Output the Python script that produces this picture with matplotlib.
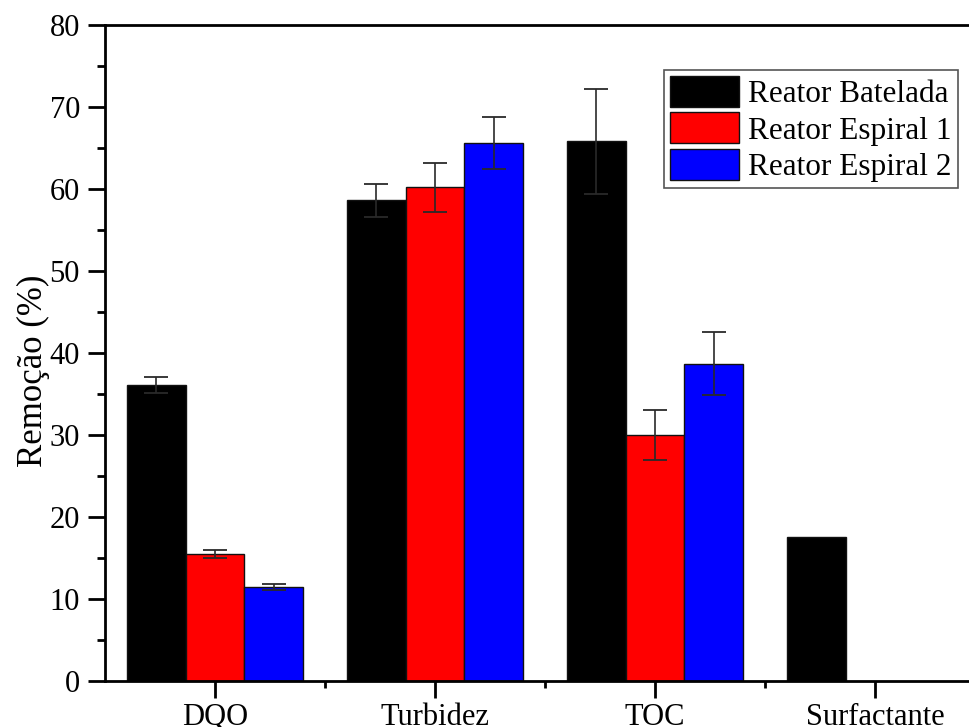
import numpy as np
import matplotlib
matplotlib.use("Agg")
import matplotlib.pyplot as plt
from matplotlib.ticker import MultipleLocator

plt.rcParams['font.family'] = ['Liberation Serif', 'DejaVu Serif']

categories = ["DQO", "Turbidez", "TOC", "Surfactante"]
series_names = ["Reator Batelada", "Reator Espiral 1", "Reator Espiral 2"]
batelada = [36.1, 58.6, 65.8, 17.6]
espiral1 = [15.5, 60.2, 30.0, np.nan]
espiral2 = [11.5, 65.6, 38.7, np.nan]
batelada_err = [1.0, 2.0, 6.4, np.nan]
espiral1_err = [0.5, 3.0, 3.0, np.nan]
espiral2_err = [0.35, 3.2, 3.85, np.nan]
colors = ["#000000", "#ff0000", "#0000ff"]

values = [batelada, espiral1, espiral2]
errors = [batelada_err, espiral1_err, espiral2_err]

fig = plt.figure(figsize=(9.70, 7.27), dpi=100)
ax = fig.add_axes([105 / 970, 46 / 727, 880 / 970, 656 / 727])

x = np.arange(len(categories))
width = 0.267
offsets = [-width, 0.0, width]
for vals, errs, col, name, off in zip(values, errors, colors, series_names, offsets):
    ax.bar(x + off, vals, width, color=col, edgecolor="#111111", linewidth=1.0,
           label=name, zorder=2)
    ax.errorbar(x + off, vals, yerr=errs, fmt="none", ecolor="#2a2a2a",
                elinewidth=1.2, capsize=8.5, capthick=1.3, zorder=3)

ax.set_xlim(-0.5, 3.5)
ax.set_ylim(0, 80)
ax.set_xticks(x)
ax.set_xticklabels(categories)
ax.set_xticks(x + 0.5, minor=True)
ax.yaxis.set_major_locator(MultipleLocator(10))
ax.yaxis.set_minor_locator(MultipleLocator(5))

ax.tick_params(axis="both", which="major", direction="out", length=12, width=2,
               labelsize=22, pad=6)
ax.tick_params(axis="both", which="minor", direction="out", length=6, width=2)
ax.tick_params(axis="x", which="minor", length=5)
ax.tick_params(axis="x", which="major", pad=4)
for s in ax.spines.values():
    s.set_linewidth(2)

ax.set_ylabel("Remoção (%)", fontsize=25)
ax.yaxis.set_label_coords(-0.063, 0.4726)

leg = ax.legend(loc="upper right", bbox_to_anchor=(958 / 970, 1 - 70 / 727),
                bbox_transform=fig.transFigure, borderaxespad=0,
                fontsize=22.5, fancybox=False, edgecolor="#555555",
                handlelength=2.2, handleheight=1.15, labelspacing=0.1,
                handletextpad=0.3, borderpad=0.2, framealpha=1)
leg.get_frame().set_linewidth(1.2)

fig.savefig("out.png", dpi=100)
